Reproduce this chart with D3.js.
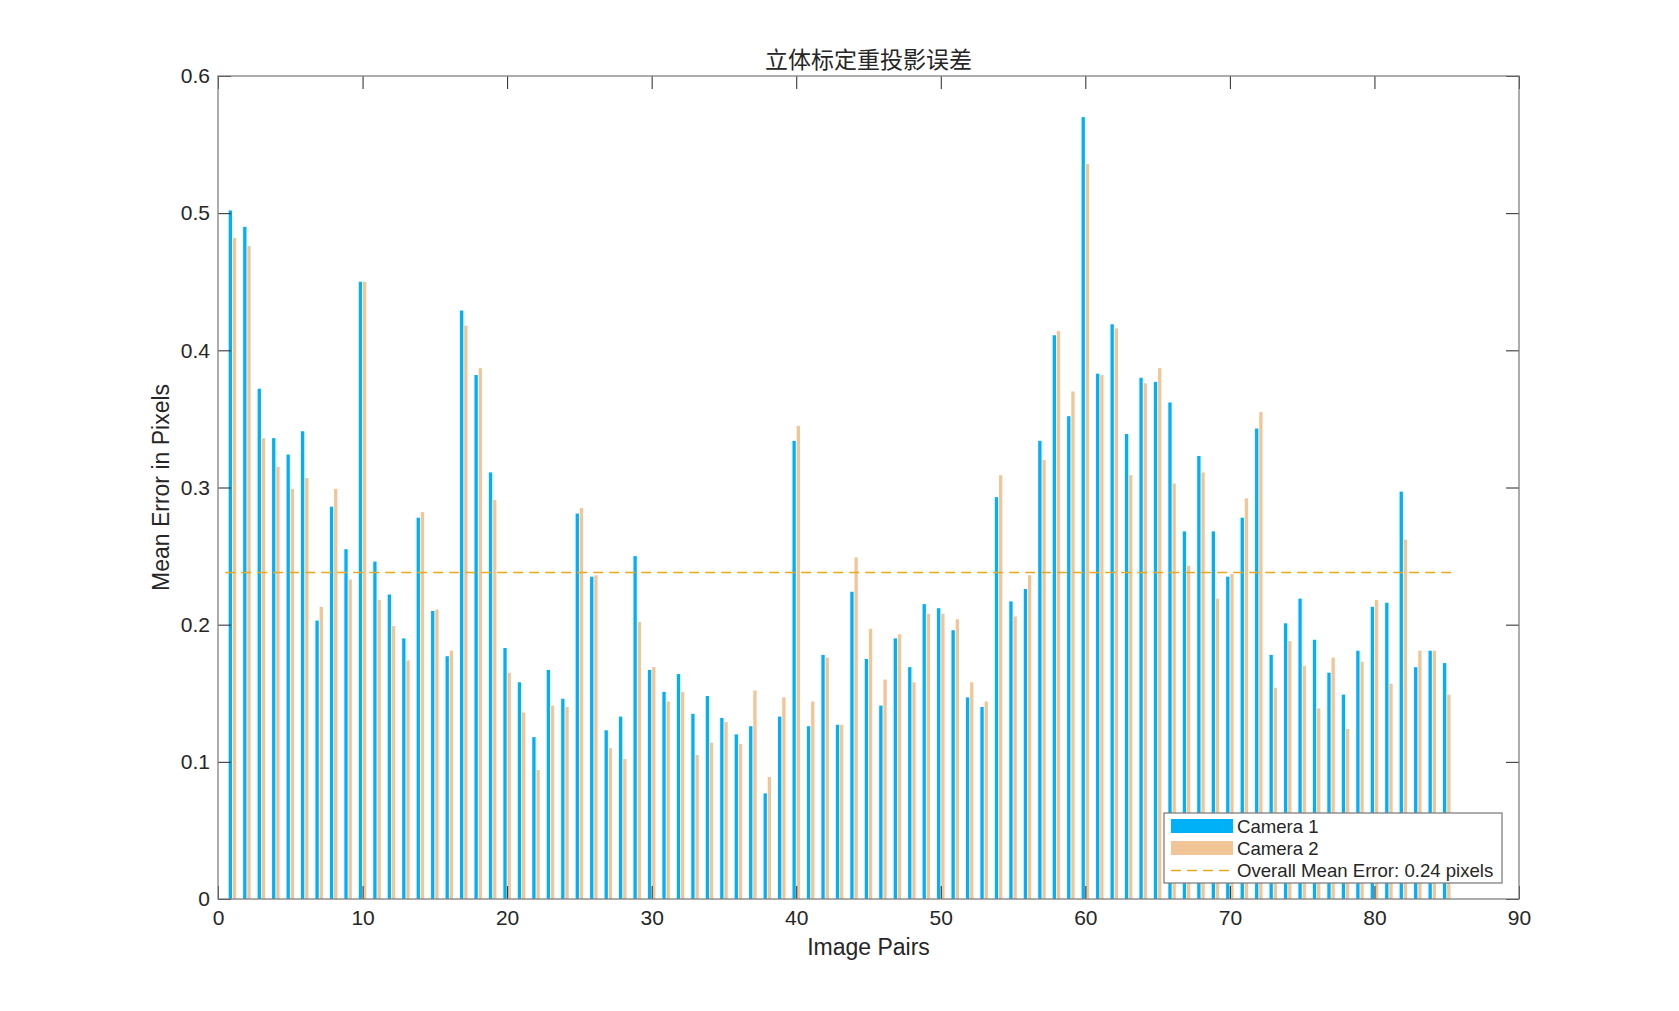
<!DOCTYPE html>
<html>
<head>
<meta charset="utf-8">
<script src="https://cdn.jsdelivr.net/npm/d3@7/dist/d3.min.js"></script>
<style>
  html, body { margin: 0; padding: 0; background: #fff; }
</style>
</head>
<body>
<div id="chart"></div>
<script>
var chartTitle = "立体标定重投影误差";
var xLabel = "Image Pairs";
var yLabel = "Mean Error in Pixels";
var seriesNames = ["Camera 1", "Camera 2", "Overall Mean Error: 0.24 pixels"];

var camera1 = [
  0.502, 0.490, 0.372, 0.336, 0.324, 0.341, 0.203, 0.286, 0.255, 0.450,
  0.246, 0.222, 0.190, 0.278, 0.210, 0.177, 0.429, 0.382, 0.311, 0.183,
  0.158, 0.118, 0.167, 0.146, 0.281, 0.235, 0.123, 0.133, 0.250, 0.167,
  0.151, 0.164, 0.135, 0.148, 0.132, 0.120, 0.126, 0.077, 0.133, 0.334,
  0.126, 0.178, 0.127, 0.224, 0.175, 0.141, 0.190, 0.169, 0.215, 0.212,
  0.196, 0.147, 0.140, 0.293, 0.217, 0.226, 0.334, 0.411, 0.352, 0.570,
  0.383, 0.419, 0.339, 0.380, 0.377, 0.362, 0.268, 0.323, 0.268, 0.235,
  0.278, 0.343, 0.178, 0.201, 0.219, 0.189, 0.165, 0.149, 0.181, 0.213,
  0.216, 0.297, 0.169, 0.181, 0.172
];

var camera2 = [
  0.482, 0.476, 0.336, 0.315, 0.299, 0.307, 0.213, 0.299, 0.233, 0.450,
  0.218, 0.199, 0.174, 0.282, 0.211, 0.181, 0.418, 0.387, 0.291, 0.165,
  0.136, 0.094, 0.141, 0.140, 0.285, 0.236, 0.110, 0.102, 0.202, 0.169,
  0.144, 0.151, 0.105, 0.114, 0.129, 0.113, 0.152, 0.089, 0.147, 0.345,
  0.144, 0.176, 0.127, 0.249, 0.197, 0.160, 0.193, 0.158, 0.208, 0.208,
  0.204, 0.158, 0.144, 0.309, 0.206, 0.236, 0.320, 0.414, 0.370, 0.536,
  0.382, 0.416, 0.309, 0.376, 0.387, 0.303, 0.243, 0.311, 0.219, 0.237,
  0.292, 0.355, 0.154, 0.188, 0.170, 0.139, 0.176, 0.124, 0.173, 0.218,
  0.157, 0.262, 0.181, 0.181, 0.149
];

var meanError = 0.2385;
var xTicks = [0, 10, 20, 30, 40, 50, 60, 70, 80, 90];
var yTicks = [0, 0.1, 0.2, 0.3, 0.4, 0.5, 0.6];

(function () {
  var width = 1679, height = 1011;
  var margin = {left: 218, top: 76, right: 160, bottom: 112};
  var plotW = width - margin.left - margin.right;
  var plotH = height - margin.top - margin.bottom;
  var textColor = "#262626";
  var font = "'Liberation Sans', Arial, sans-serif";
  var blue = "#00b1f7";
  var orange = "#f2c597";
  var lineColor = "#eaa81a";

  var svg = d3.select("#chart").append("svg")
    .attr("width", width)
    .attr("height", height);

  var x = d3.scaleLinear().domain([0, 90]).range([0, plotW]);
  var y = d3.scaleLinear().domain([0, 0.6]).range([plotH, 0]);

  var g = svg.append("g")
    .attr("transform", "translate(" + margin.left + "," + margin.top + ")");

  var idx = d3.range(1, camera1.length + 1);
  var barW = 0.23;
  var gap = 0.03;

  g.append("g").selectAll("rect")
    .data(idx)
    .join("rect")
    .attr("x", function (i) { return x(i - gap - barW); })
    .attr("width", x(barW) - x(0))
    .attr("y", function (i) { return y(camera1[i - 1]); })
    .attr("height", function (i) { return y(0) - y(camera1[i - 1]); })
    .attr("fill", blue);

  g.append("g").selectAll("rect")
    .data(idx)
    .join("rect")
    .attr("x", function (i) { return x(i + gap); })
    .attr("width", x(barW) - x(0))
    .attr("y", function (i) { return y(camera2[i - 1]); })
    .attr("height", function (i) { return y(0) - y(camera2[i - 1]); })
    .attr("fill", orange);

  g.append("line")
    .attr("x1", x(0.5))
    .attr("x2", x(camera1.length + 0.5))
    .attr("y1", Math.round(y(meanError)) + 0.5)
    .attr("y2", Math.round(y(meanError)) + 0.5)
    .attr("stroke", lineColor)
    .attr("stroke-width", 1.3)
    .attr("stroke-dasharray", "10 6");

  // axes, MATLAB box style with inward ticks
  var tickLen = 13;
  function styleAxis(sel) {
    sel.select(".domain").remove();
    sel.selectAll(".tick line").attr("stroke", textColor).attr("stroke-width", 1);
    sel.selectAll(".tick text")
      .attr("fill", textColor)
      .attr("font-family", font)
      .attr("font-size", 21);
  }

  g.append("g")
    .attr("transform", "translate(0," + plotH + ")")
    .call(d3.axisBottom(x).tickValues(xTicks).tickSizeInner(-tickLen).tickSizeOuter(0)
      .tickFormat(d3.format("d")))
    .call(styleAxis)
    .selectAll(".tick text").attr("dy", "0.71em").attr("y", 11);

  g.append("g")
    .call(d3.axisTop(x).tickValues(xTicks).tickSizeInner(-tickLen).tickSizeOuter(0).tickFormat(""))
    .call(styleAxis);

  g.append("g")
    .call(d3.axisLeft(y).tickValues(yTicks).tickSizeInner(-tickLen).tickSizeOuter(0)
      .tickFormat(function (d) { return d === 0 ? "0" : d3.format(".1f")(d); }))
    .call(styleAxis)
    .selectAll(".tick text").attr("x", -8);

  g.append("g")
    .attr("transform", "translate(" + plotW + ",0)")
    .call(d3.axisRight(y).tickValues(yTicks).tickSizeInner(-tickLen).tickSizeOuter(0).tickFormat(""))
    .call(styleAxis);

  g.append("rect")
    .attr("x", 0).attr("y", 0)
    .attr("width", plotW).attr("height", plotH)
    .attr("fill", "none")
    .attr("stroke", "#808080")
    .attr("stroke-width", 1.3);

  // labels
  svg.append("text")
    .attr("x", margin.left + plotW / 2)
    .attr("y", 60)
    .attr("dy", "0.35em")
    .attr("text-anchor", "middle")
    .attr("font-family", "'Noto Sans CJK SC', sans-serif")
    .attr("font-size", 23)
    .attr("fill", textColor)
    .text(chartTitle);

  svg.append("text")
    .attr("x", margin.left + plotW / 2)
    .attr("y", 947)
    .attr("dy", "0.35em")
    .attr("text-anchor", "middle")
    .attr("font-family", font)
    .attr("font-size", 23)
    .attr("fill", textColor)
    .text(xLabel);

  svg.append("text")
    .attr("transform", "translate(161," + (margin.top + plotH / 2) + ") rotate(-90)")
    .attr("dy", "0.35em")
    .attr("text-anchor", "middle")
    .attr("font-family", font)
    .attr("font-size", 23)
    .attr("fill", textColor)
    .text(yLabel);

  // legend
  var lg = svg.append("g").attr("transform", "translate(1164,813)");
  lg.append("rect")
    .attr("width", 338).attr("height", 70)
    .attr("fill", "#fff")
    .attr("stroke", "#808080")
    .attr("stroke-width", 1.3);

  var rowsY = [13, 35, 57];
  [blue, orange].forEach(function (c, k) {
    lg.append("rect")
      .attr("x", 7).attr("y", rowsY[k] - 7)
      .attr("width", 62).attr("height", 14)
      .attr("fill", c);
  });
  lg.append("line")
    .attr("x1", 7).attr("x2", 69)
    .attr("y1", rowsY[2] + 0.5).attr("y2", rowsY[2] + 0.5)
    .attr("stroke", lineColor)
    .attr("stroke-width", 1.3)
    .attr("stroke-dasharray", "10 6");

  lg.selectAll("text.entry")
    .data(seriesNames)
    .join("text")
    .attr("class", "entry")
    .attr("x", 73)
    .attr("y", function (d, k) { return rowsY[k]; })
    .attr("dy", "0.35em")
    .attr("font-family", font)
    .attr("font-size", 18.6)
    .attr("fill", textColor)
    .text(function (d) { return d; });
}());
</script>
</body>
</html>
